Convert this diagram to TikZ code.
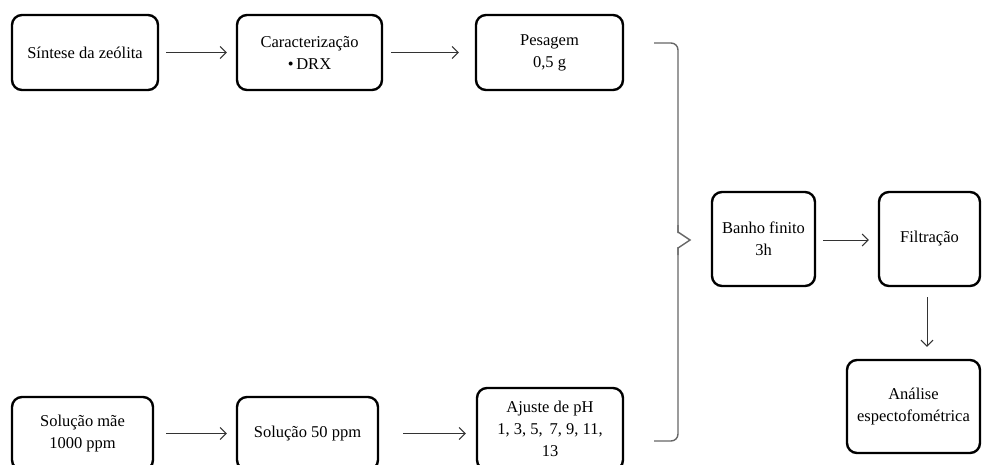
\documentclass[tikz,border=0pt]{standalone}
\usepackage{fontspec}
\setmainfont{Liberation Serif}
\usetikzlibrary{arrows.meta}
\begin{document}
\begin{tikzpicture}[x=1pt,y=-1pt,
  box/.style={draw=black,line width=2.4pt,rounded corners=10pt,align=center,
    inner sep=0pt,font=\fontsize{16.5}{22}\selectfont},
  conn/.style={draw=black!80,line width=1pt,-{Straight Barb[length=6pt,width=12pt]}},
  bracestyle/.style={draw=black!60,line width=1.4pt}]
\useasboundingbox (0,0) rectangle (982,464);
% top row
\node[box,minimum width=146pt,minimum height=75pt] (sint) at (85,52.5) {Síntese da zeólita};
\node[box,minimum width=145pt,minimum height=75pt] (carac) at (309.5,52.5) {Caracterização\\\textbullet\,DRX};
\node[box,minimum width=147pt,minimum height=75pt] (pes) at (549.5,52.5) {Pesagem\\0,5 g};
% bottom row
\node[box,minimum width=141pt,minimum height=73pt] (mae) at (82.5,433.5) {Solução mãe\\1000 ppm};
\node[box,minimum width=141pt,minimum height=73pt] (sol) at (307.5,433.5) {Solução 50 ppm};
\node[box,minimum width=146pt,minimum height=82pt] (aj) at (550,429) {Ajuste de pH\\1, 3, 5,\, 7, 9, 11,\\13};
% right part
\node[box,minimum width=103pt,minimum height=94pt] (banho) at (763.5,239) {Banho finito\\3h};
\node[box,minimum width=101pt,minimum height=94pt] (filt) at (929.5,239) {Filtração};
\node[box,minimum width=133pt,minimum height=93pt] (anal) at (913.5,406.5) {Análise\\espectofométrica};
% arrows
\draw[conn] ([xshift=7pt]sint.east) -- ([xshift=-9pt]carac.west);
\draw[conn] ([xshift=8pt]carac.east) -- ([xshift=-16pt]pes.west);
\draw[conn] ([xshift=12pt]mae.east) -- ([xshift=-9pt]sol.west);
\draw[conn] ([xshift=24pt,yshift=0pt]sol.east) -- ([xshift=-10pt,yshift=-4.5pt]aj.west);
\draw[conn] ([xshift=7pt,yshift=-1pt]banho.east) -- ([xshift=-9pt,yshift=-1pt]filt.west);
\draw[conn] ([xshift=-2.5pt,yshift=-10pt]filt.south) -- ([xshift=13.5pt,yshift=12pt]anal.north);
% brace
\coordinate (btop) at (654,43);
\coordinate (bbot) at (654,441);
\coordinate (btip) at (690,240);
\draw[bracestyle,rounded corners=7pt] (btop) -- (678,43) -- (678,233);
\draw[bracestyle] (678,225) -- (678,232) -- (btip) -- (678,248) -- (678,255);
\draw[bracestyle,rounded corners=7pt] (678,247) -- (678,441) -- (bbot);
\end{tikzpicture}
\end{document}
